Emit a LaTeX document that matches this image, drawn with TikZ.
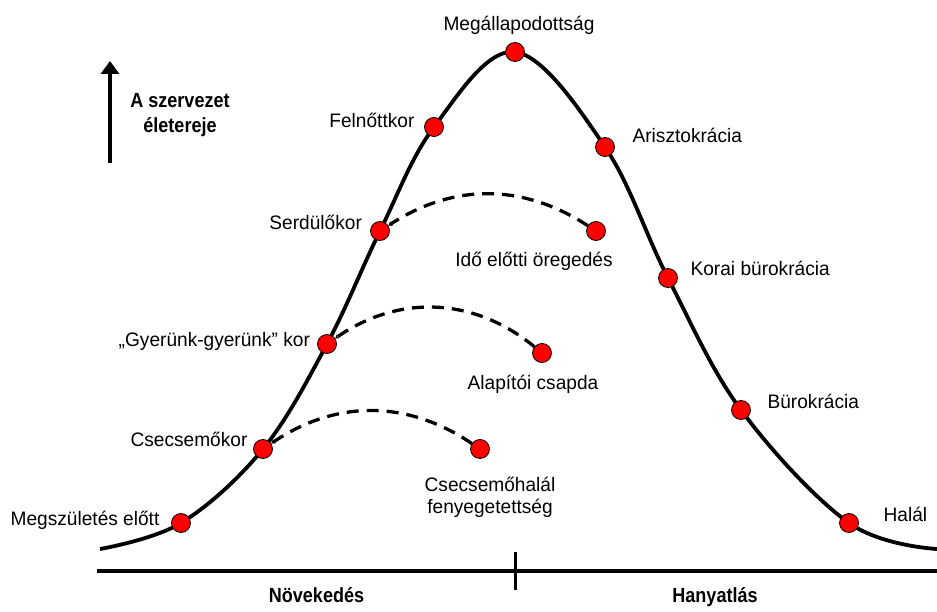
\documentclass[tikz,border=0pt]{standalone}
\usepackage{fontspec}
\setmainfont{Liberation Sans}[FakeStretch=0.98]
\newfontfamily\headfont{Liberation Sans}[FakeStretch=0.88]
\usetikzlibrary{arrows.meta,positioning,backgrounds}

\begin{document}
\begin{tikzpicture}[x=1pt, y=-1pt, node distance=10pt]
  \tikzstyle{dot} = [circle, draw, fill=red, line width=0.8pt,
    inner sep=0pt, minimum size=19pt]
  \tikzstyle{lbl} = [inner sep=0pt, font=\fontsize{19.5}{22.5}\selectfont]
  \tikzstyle{head} = [inner sep=0pt, align=center,
    font=\headfont\bfseries\fontsize{20.5}{24.5}\selectfont]
  \tikzstyle{line} = [draw, line width=3.8pt]
  \tikzstyle{trap} = [draw, line width=3.3pt, dash pattern=on 12pt off 8pt,
    -{Stealth[length=4pt,width=5pt]}]

  \useasboundingbox (0,0) rectangle (937,612);

  % Place nodes
  \node [dot] (elott) at (181,523) {};
  \node [dot] (csecsemo) at (263,449) {};
  \node [dot] (gyerunk) at (327,344) {};
  \node [dot] (serdulo) at (380,231) {};
  \node [dot] (felnott) at (434,127) {};
  \node [dot] (megall) at (515,52) {};
  \node [dot] (arisztok) at (605,147) {};
  \node [dot] (korai) at (668,278) {};
  \node [dot] (burok) at (741,410) {};
  \node [dot] (halal) at (849,523) {};

  \node [dot] (idoelotti) at (596,231) {};
  \node [dot] (alapitoi) at (542,353) {};
  \node [dot] (csecshalal) at (480,449) {};

  \node [lbl, left=11.5pt of elott, anchor=base east, yshift=-2pt] (elottlbl) {Megszületés előtt};
  \node [lbl, left=5.5pt of csecsemo, anchor=base east, yshift=3pt] (csecsemolbl) {Csecsemőkor};
  \node [lbl, left=7pt of gyerunk, anchor=base east, yshift=-2pt] (gyerunklbl) {„Gyerünk-gyerünk” kor};
  \node [lbl, left=8pt of serdulo, anchor=base east, yshift=1.7pt] (serdulolbl) {Serdülőkor};
  \node [lbl, left=9.5pt of felnott, anchor=base east, yshift=-1pt] (felnottlbl) {Felnőttkor};
  \node [lbl, above=11.5pt of megall, anchor=base, xshift=4pt] (megalllbl) {Megállapodottság};
  \node [lbl, right=17.5pt of arisztok, anchor=base west, yshift=4pt] (arisztoklbl) {Arisztokrácia};
  \node [lbl, right=12.5pt of korai, anchor=base west, yshift=2pt] (korailbl) {Korai bürokrácia};
  \node [lbl, right=16.5pt of burok, anchor=base west, yshift=2pt] (buroklbl) {Bürokrácia};
  \node [lbl, right=24.5pt of halal, anchor=base west, yshift=2pt] (halallbl) {Halál};

  \node [lbl, below=25.5pt of idoelotti, anchor=base, xshift=-62pt] (idoelottilbl) {Idő előtti öregedés};
  \node [lbl, below=27pt of alapitoi, anchor=base, xshift=-9pt] (alapitoilbl) {Alapítói csapda};
  \node [lbl, align=center, below=18pt of csecshalal, anchor=north, xshift=10pt] (csecshalallbl) {Csecsemőhalál\\fenyegetettség};

  \node [head, anchor=north] (vitality) at (180,93.3) {A szervezet\\életereje};
  \coordinate (arrowtail) at (110,163);
  \coordinate (arrowtip) at (110,61);

  \coordinate (curvestart) at (100,549);
  \coordinate (curveend) at (937,549);

  \coordinate (axisleft) at (97,571);
  \coordinate (axisright) at (937,571);
  \coordinate (ticktop) at (515,552);
  \coordinate (tickbottom) at (515,590);
  \node [head, anchor=base] (growth) at (316.5,602) {Növekedés};
  \node [head, anchor=base] (decline) at (715,602) {Hanyatlás};

  % Draw edges
  \begin{pgfonlayer}{background}
    \path [line] plot [smooth, tension=0.6] coordinates {(curvestart) (elott.center)
      (csecsemo.center) (gyerunk.center) (serdulo.center) (felnott.center)
      (megall.center) (arisztok.center) (korai.center) (burok.center)
      (halal.center) (curveend)};
  \end{pgfonlayer}

  \path [trap] (idoelotti) to [bend right=33] (serdulo);
  \path [trap] (alapitoi) to [bend right=37] (gyerunk);
  \path [trap] (csecshalal) to [bend right=34] (csecsemo);

  \path [line, line width=4pt, -{Triangle[width=18pt,length=13pt]}] (arrowtail) -- (arrowtip);

  \path [line] (axisleft) -- (axisright);
  \path [line, line width=3pt] (ticktop) -- (tickbottom);
\end{tikzpicture}
\end{document}
